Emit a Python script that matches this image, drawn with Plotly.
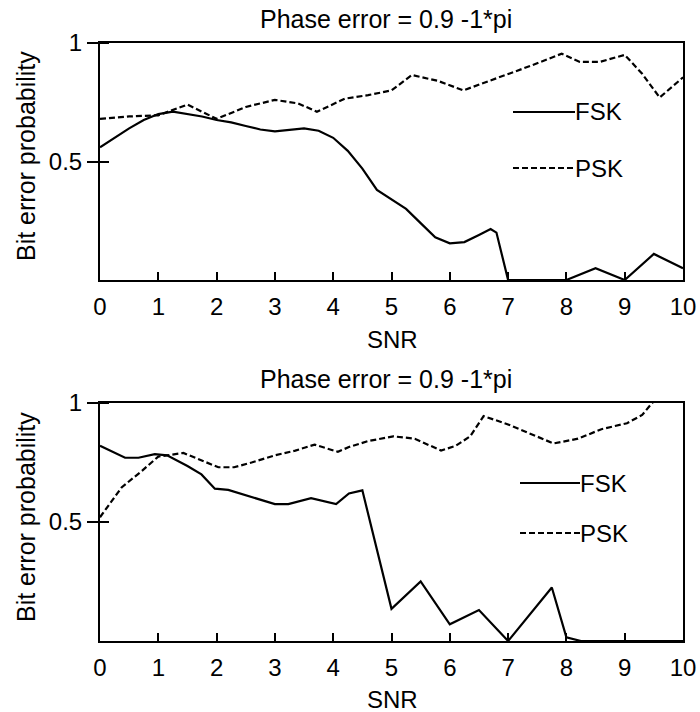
import plotly.graph_objects as go

# ---- data ----
title_text = "Phase error = 0.9 -1*pi"
x_title = "SNR"
y_title = "Bit error probability"
x_ticks = [0, 1, 2, 3, 4, 5, 6, 7, 8, 9, 10]
y_ticks = [0.5, 1]
y_ticklabels = ["0.5", "1"]

# top panel
top_fsk_x = [0, 0.25, 0.5, 0.75, 1.0, 1.25, 1.5, 1.75, 2.0, 2.25, 2.5, 2.75, 3.0, 3.25, 3.5, 3.75,
             4.0, 4.25, 4.5, 4.75, 5.0, 5.25, 5.5, 5.75, 6.0, 6.25, 6.5, 6.7, 6.8, 7.0, 8.0, 8.5, 9.0, 9.5, 10]
top_fsk_y = [0.56, 0.60, 0.64, 0.675, 0.70, 0.71, 0.70, 0.69, 0.675, 0.665, 0.65, 0.635, 0.627, 0.632, 0.64, 0.63,
             0.60, 0.545, 0.47, 0.38, 0.34, 0.30, 0.24, 0.18, 0.155, 0.16, 0.19, 0.215, 0.20, 0.0, 0.0, 0.05, 0.0, 0.11, 0.05]
top_psk_x = [0, 0.5, 1.0, 1.5, 2.0, 2.5, 3.0, 3.4, 3.72, 4.2, 4.6, 5.0, 5.35, 5.8, 6.23, 6.8, 7.4, 7.92, 8.23, 8.57, 9.0, 9.3, 9.6, 10]
top_psk_y = [0.68, 0.69, 0.695, 0.74, 0.68, 0.73, 0.76, 0.745, 0.71, 0.765, 0.78, 0.80, 0.865, 0.84, 0.80, 0.85, 0.905, 0.955, 0.92, 0.92, 0.95, 0.87, 0.77, 0.855]

# bottom panel
bot_fsk_x = [0, 0.43, 0.66, 0.94, 1.15, 1.5, 1.74, 1.97, 2.2, 2.6, 3.0, 3.23, 3.62, 4.05, 4.27, 4.5,
             5.0, 5.5, 6.0, 6.5, 7.0, 7.75, 8.0, 8.25, 10]
bot_fsk_y = [0.82, 0.77, 0.77, 0.785, 0.78, 0.735, 0.70, 0.64, 0.635, 0.605, 0.575, 0.575, 0.60, 0.575, 0.62, 0.633,
             0.135, 0.25, 0.07, 0.13, 0.0, 0.225, 0.015, 0.0, 0.0]
bot_psk_x = [0, 0.2, 0.37, 0.72, 1.0, 1.43, 1.74, 2.03, 2.3, 2.6, 3.0, 3.35, 3.68, 4.08, 4.27, 4.6, 5.03, 5.4,
             5.85, 6.1, 6.35, 6.58, 7.0, 7.4, 7.78, 8.2, 8.6, 9.04, 9.3, 9.47, 10]
bot_psk_y = [0.52, 0.59, 0.645, 0.715, 0.775, 0.79, 0.76, 0.73, 0.73, 0.75, 0.78, 0.80, 0.825, 0.795, 0.815, 0.84, 0.86, 0.85,
             0.80, 0.82, 0.86, 0.945, 0.91, 0.87, 0.83, 0.85, 0.89, 0.915, 0.95, 1.0, 1.1]

series_names = ["FSK", "PSK"]

FONT = "Arial, Liberation Sans, Helvetica, sans-serif"
DASH = "6px,3px"

fig = go.Figure()

panels = [
    ("x", "y", top_fsk_x, top_fsk_y, top_psk_x, top_psk_y),
    ("x2", "y2", bot_fsk_x, bot_fsk_y, bot_psk_x, bot_psk_y),
]
for xa, ya, fx, fy, px, py in panels:
    fig.add_trace(go.Scatter(x=fx, y=fy, mode="lines", name=series_names[0], xaxis=xa, yaxis=ya,
                             line=dict(color="black", width=2.2), showlegend=False))
    fig.add_trace(go.Scatter(x=px, y=py, mode="lines", name=series_names[1], xaxis=xa, yaxis=ya,
                             line=dict(color="black", width=2.2, dash=DASH), showlegend=False))

H = 712.0
W = 700.0
xdom = [100 / W, 683 / W]
top_dom = [(H - 280) / H, (H - 43) / H]
bot_dom = [(H - 641) / H, (H - 403) / H]

xaxis_common = dict(range=[0, 10], tickvals=x_ticks, ticks="inside", ticklen=8, tickwidth=2,
                    tickcolor="black", showline=True, linecolor="black", linewidth=2, mirror=True,
                    showgrid=False, zeroline=False, tickfont=dict(family=FONT, size=24, color="black"),
                    ticklabelstandoff=4, automargin=False)
yaxis_common = dict(range=[0, 1], tickvals=y_ticks, ticktext=y_ticklabels, ticks="outside", ticklen=11,
                    tickwidth=2, tickcolor="black", showline=True, linecolor="black", linewidth=2,
                    mirror=True, showgrid=False, zeroline=False, automargin=False,
                    minor=dict(tickvals=y_ticks, ticks="inside", ticklen=9, tickwidth=2, tickcolor="black",
                               showgrid=False),
                    tickfont=dict(family=FONT, size=24, color="black"))

fig.update_layout(
    width=700, height=712,
    margin=dict(l=0, r=0, t=0, b=0, pad=0, autoexpand=False),
    paper_bgcolor="white", plot_bgcolor="white",
    xaxis=dict(domain=xdom, anchor="y", **xaxis_common),
    yaxis=dict(domain=top_dom, anchor="x", **yaxis_common),
    xaxis2=dict(domain=xdom, anchor="y2", **xaxis_common),
    yaxis2=dict(domain=bot_dom, anchor="x2", **yaxis_common),
)

annotations = []
shapes = []
for (t_y, snr_y, ylab_y, leg_y1, leg_y2, lx0, lx1) in [
    (19, 340, 156, 112, 168, 513, 575),
    (379, 699, 517, 483, 533, 520, 580),
]:
    annotations.append(dict(text=title_text, x=386 / W, y=1 - t_y / H, xref="paper", yref="paper",
                            showarrow=False, xanchor="center", yanchor="middle",
                            font=dict(family=FONT, size=25, color="black")))
    annotations.append(dict(text=x_title, x=392 / W, y=1 - snr_y / H, xref="paper", yref="paper",
                            showarrow=False, xanchor="center", yanchor="middle",
                            font=dict(family=FONT, size=24, color="black")))
    annotations.append(dict(text=y_title, x=26 / W, y=1 - ylab_y / H, xref="paper", yref="paper",
                            showarrow=False, xanchor="center", yanchor="middle", textangle=-90,
                            font=dict(family=FONT, size=25, color="black")))
    for name, ly, dash in [(series_names[0], leg_y1, "solid"), (series_names[1], leg_y2, DASH)]:
        shapes.append(dict(type="line", xref="paper", yref="paper", x0=lx0 / W, x1=lx1 / W,
                           y0=1 - ly / H, y1=1 - ly / H, line=dict(color="black", width=2, dash=dash)))
        annotations.append(dict(text=name, x=lx1 / W, y=1 - ly / H, xref="paper", yref="paper",
                                showarrow=False, xanchor="left", yanchor="middle", xshift=-2,
                                font=dict(family=FONT, size=24, color="black")))

fig.update_layout(annotations=annotations, shapes=shapes)

fig.write_html("out.html", config={"displayModeBar": False},
               post_script="document.body.style.margin='0';")
